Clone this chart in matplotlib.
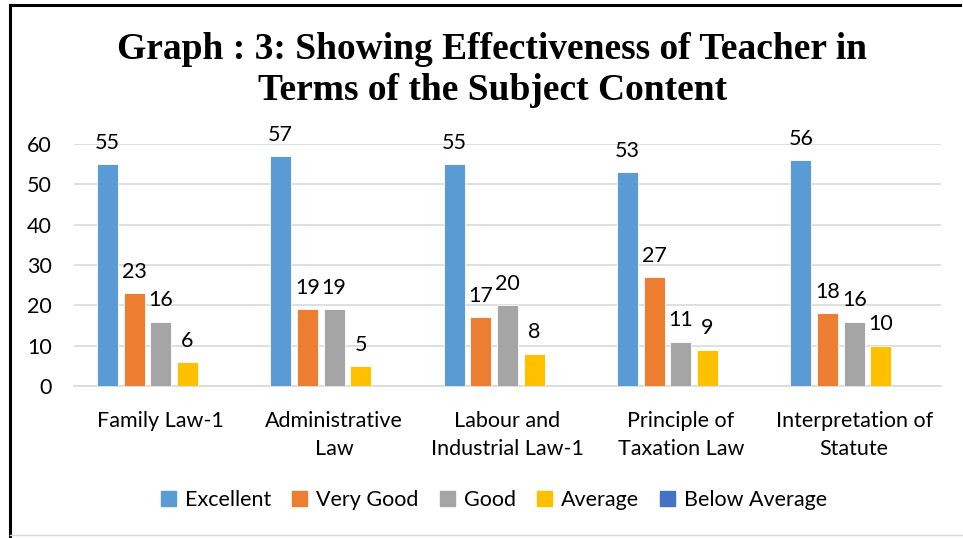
import numpy as np
import matplotlib
matplotlib.use("Agg")
import matplotlib.pyplot as plt
from matplotlib.lines import Line2D

subjects = ["Family Law-1", "Administrative\nLaw", "Labour and\nIndustrial Law-1",
            "Principle of\nTaxation Law", "Interpretation of\nStatute"]
series = ["Excellent", "Very Good", "Good", "Average", "Below Average"]
excellent = [55, 57, 55, 53, 56]
very_good = [23, 19, 17, 27, 18]
good = [16, 19, 20, 11, 16]
average = [6, 5, 8, 9, 10]
below_average = [None, None, None, None, None]
colors = ["#5B9BD5", "#ED7D31", "#A5A5A5", "#FFC000", "#4472C4"]

FONT = ["Lato", "DejaVu Sans"]
FS = 15.5

fig = plt.figure(figsize=(9.63, 5.38), dpi=100)
ax = fig.add_axes([0.077, 0.2825, 0.9, 0.4495])

x = np.arange(len(subjects))
slot = 0.154
bw = 0.121
values = [excellent, very_good, good, average, below_average]
for i, (name, vals, c) in enumerate(zip(series, values, colors)):
    pos = x + (i - 2) * slot
    h = [v if v is not None else 0 for v in vals]
    ax.bar(pos, h, width=bw, color=c, edgecolor="white", linewidth=0.6, label=name, zorder=3)
    for p, v in zip(pos, vals):
        if v is None:
            continue
        ax.text(p, v + 2.8, str(v), ha="center", va="bottom", fontsize=FS,
                family=FONT, clip_on=False)

ax.set_xlim(-0.5, len(subjects) - 0.5)
ax.set_ylim(0, 60)
ax.set_yticks(range(0, 61, 10))
ax.grid(axis="y", color="#D9D9D9", linewidth=1.2, zorder=0)
for s in ["top", "right", "left"]:
    ax.spines[s].set_visible(False)
ax.spines["bottom"].set_color("#D9D9D9")
ax.spines["bottom"].set_linewidth(1.2)
ax.tick_params(length=0)
ax.tick_params(axis="y", pad=16)
ax.tick_params(axis="x", pad=18)
ax.set_xticks(x)
ax.set_xticklabels(subjects, fontsize=FS, family=FONT, linespacing=1.5)
for t in ax.get_yticklabels():
    t.set_fontsize(FS)
    t.set_family(FONT)

fig.text(0.511, 1 - 70 / 538, "Graph : 3: Showing Effectiveness of Teacher in\nTerms of the Subject Content",
         ha="center", va="center", fontsize=27, fontweight="bold",
         family="Liberation Serif", linespacing=1.25)

handles = [plt.Rectangle((0, 0), 1, 1, color=c) for c in colors]
fig.legend(handles, series, loc="center", bbox_to_anchor=(0.513, 1 - 500 / 538), ncol=5,
           frameon=False, prop={"family": FONT, "size": FS}, handlelength=0.7,
           handleheight=0.7, handletextpad=0.4, columnspacing=1.0)

# chart frame
W, H = 963, 538
fig.add_artist(Line2D([10 / W, 960 / W], [1 - 5 / H, 1 - 5 / H], color="black", linewidth=2.2))
fig.add_artist(Line2D([10 / W, 10 / W], [0, 1 - 5 / H], color="black", linewidth=2.2))
fig.add_artist(Line2D([10 / W, 963 / W], [3 / H, 3 / H], color="#D9D9D9", linewidth=1))

fig.savefig("out.png", dpi=100)
